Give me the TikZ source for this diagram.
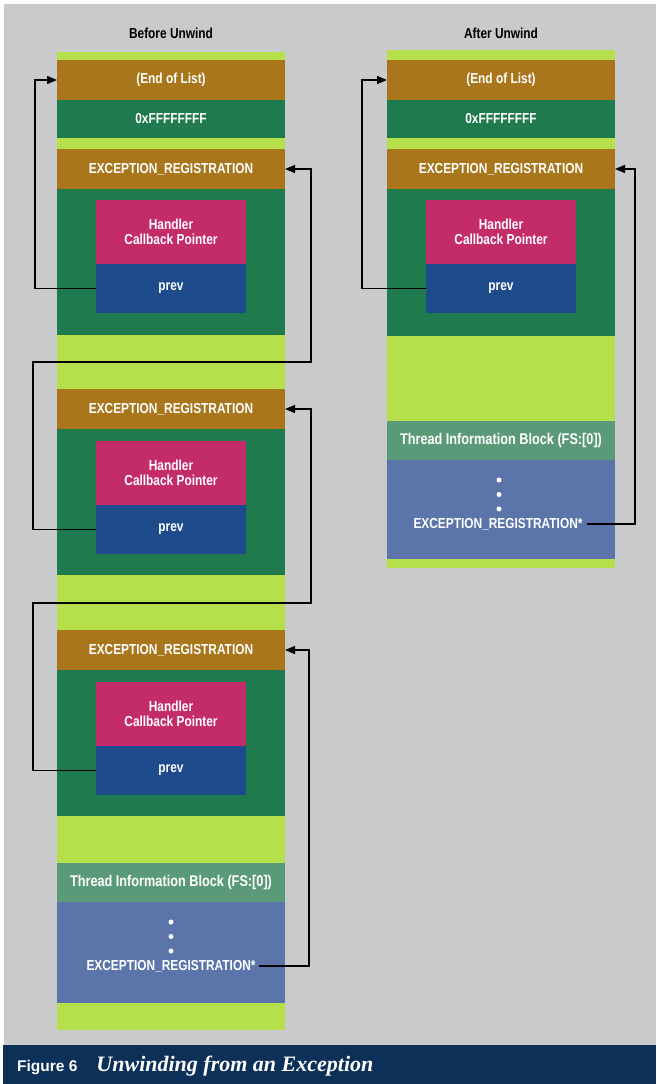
\documentclass[tikz,border=0pt]{standalone}
\usepackage{fontspec}
\setmainfont{Liberation Sans}[FakeStretch=0.82]
\newfontfamily\capsans{Liberation Sans}
\newfontfamily\capserif{Liberation Serif}
\usetikzlibrary{arrows.meta}
\definecolor{bggray}{HTML}{C8CACC}
\definecolor{lime}{HTML}{B6DF4C}
\definecolor{brownbar}{HTML}{A9761C}
\definecolor{dkgreen}{HTML}{1F7A4D}
\definecolor{pinkbox}{HTML}{C42B69}
\definecolor{bluebox}{HTML}{1D4B8C}
\definecolor{tibgreen}{HTML}{5B9A78}
\definecolor{stackblue}{HTML}{5B75AB}
\definecolor{navy}{HTML}{0D3059}
\tikzset{
  blk/.style={rectangle, inner sep=0pt, outer sep=0pt, text=white,
    font=\bfseries\fontsize{14.5}{15}\selectfont, align=center},
  title/.style={inner sep=0pt, font=\bfseries\fontsize{14.5}{15}\selectfont},
  link/.style={draw=black, line width=1.3pt, -{Triangle[length=10pt,width=8pt]}},
  dot/.style={circle, fill=white, draw=none, minimum size=5pt, inner sep=0pt}
}
\begin{document}
\begin{tikzpicture}[x=1pt,y=-1pt]
\useasboundingbox (0,0) rectangle (656,1084);
\fill[white] (0,0) rectangle (656,1084);
\fill[bggray] (4,4) rectangle (656,1045);
\fill[navy] (3,1045) rectangle (656,1084);
\node[anchor=west, text=white, inner sep=0pt] (cap) at (17,1066)
  {{\capsans\bfseries\fontsize{15.5}{16}\selectfont Figure 6}\hspace{19pt}{\capserif\bfseries\itshape\fontsize{22}{23}\selectfont Unwinding from an Exception}};

% ---------- Before Unwind ----------
\node[title] (tL) at (171,33) {Before Unwind};
\node[blk, fill=lime, minimum width=228pt, minimum height=978pt] (Lcol) at (171,541) {};
\node[blk, fill=brownbar, minimum width=228pt, minimum height=40pt] (Lend) at (171,80) {(End of List)};
\node[blk, fill=dkgreen, minimum width=228pt, minimum height=38pt] (Lff) at (171,119) {0xFFFFFFFF};
% block 1
\node[blk, fill=brownbar, minimum width=228pt, minimum height=40pt] (Lreg1) at (171,169) {EXCEPTION\_REGISTRATION};
\node[blk, fill=dkgreen, minimum width=228pt, minimum height=146pt] (Lbody1) at (171,262) {};
\node[blk, fill=pinkbox, minimum width=150pt, minimum height=64pt] (Lhcp1) at (171,232) {Handler\\Callback Pointer};
\node[blk, fill=bluebox, minimum width=150pt, minimum height=49pt] (Lprev1) at (171,288.5) {prev};
% block 2
\node[blk, fill=brownbar, minimum width=228pt, minimum height=40pt] (Lreg2) at (171,409) {EXCEPTION\_REGISTRATION};
\node[blk, fill=dkgreen, minimum width=228pt, minimum height=146pt] (Lbody2) at (171,502) {};
\node[blk, fill=pinkbox, minimum width=150pt, minimum height=64pt] (Lhcp2) at (171,473) {Handler\\Callback Pointer};
\node[blk, fill=bluebox, minimum width=150pt, minimum height=49pt] (Lprev2) at (171,529.5) {prev};
% block 3
\node[blk, fill=brownbar, minimum width=228pt, minimum height=40pt] (Lreg3) at (171,650) {EXCEPTION\_REGISTRATION};
\node[blk, fill=dkgreen, minimum width=228pt, minimum height=146pt] (Lbody3) at (171,743) {};
\node[blk, fill=pinkbox, minimum width=150pt, minimum height=64pt] (Lhcp3) at (171,714) {Handler\\Callback Pointer};
\node[blk, fill=bluebox, minimum width=150pt, minimum height=49pt] (Lprev3) at (171,770.5) {prev};
% TIB
\node[blk, fill=tibgreen, minimum width=228pt, minimum height=39pt] (Ltib) at (171,882.5) {\fontsize{15.5}{16}\selectfont Thread Information Block (FS:[0])};
\node[blk, fill=stackblue, minimum width=228pt, minimum height=101pt] (Lstack) at (171,952.5) {};
\node[dot] (Ld1) at (171,922) {};
\node[dot] (Ld2) at (171,936.5) {};
\node[dot] (Ld3) at (171,951) {};
\node[blk, inner sep=0pt] (Lers) at (171,966) {EXCEPTION\_REGISTRATION*};

% left arrows
\coordinate (a1a) at (35,288.5);
\coordinate (a1b) at (35,80);
\draw[link] (Lprev1.west) -- (a1a) -- (a1b) -- (Lend.west);
\coordinate (a2a) at (33,529.5);
\coordinate (a2b) at (33,362);
\coordinate (a2c) at (311,362);
\coordinate (a2d) at (311,169);
\draw[link] (Lprev2.west) -- (a2a) -- (a2b) -- (a2c) -- (a2d) -- (Lreg1.east);
\coordinate (a3a) at (33,770.5);
\coordinate (a3b) at (33,603);
\coordinate (a3c) at (311,603);
\coordinate (a3d) at (311,409);
\draw[link] (Lprev3.west) -- (a3a) -- (a3b) -- (a3c) -- (a3d) -- (Lreg2.east);
\coordinate (a4s) at ([xshift=4pt]Lers.east);
\coordinate (a4a) at (309,966);
\coordinate (a4b) at (309,650);
\draw[link] (a4s) -- (a4a) -- (a4b) -- (Lreg3.east);

% ---------- After Unwind ----------
\node[title] (tR) at (501,33) {After Unwind};
\node[blk, fill=lime, minimum width=228pt, minimum height=518pt] (Rcol) at (501,309) {};
\node[blk, fill=brownbar, minimum width=228pt, minimum height=40pt] (Rend) at (501,80) {(End of List)};
\node[blk, fill=dkgreen, minimum width=228pt, minimum height=38pt] (Rff) at (501,119) {0xFFFFFFFF};
\node[blk, fill=brownbar, minimum width=228pt, minimum height=40pt] (Rreg1) at (501,169) {EXCEPTION\_REGISTRATION};
\node[blk, fill=dkgreen, minimum width=228pt, minimum height=147pt] (Rbody1) at (501,262.5) {};
\node[blk, fill=pinkbox, minimum width=150pt, minimum height=64pt] (Rhcp1) at (501,232) {Handler\\Callback Pointer};
\node[blk, fill=bluebox, minimum width=150pt, minimum height=49pt] (Rprev1) at (501,288.5) {prev};
\node[blk, fill=tibgreen, minimum width=228pt, minimum height=39pt] (Rtib) at (501,440.5) {\fontsize{15.5}{16}\selectfont Thread Information Block (FS:[0])};
\node[blk, fill=stackblue, minimum width=228pt, minimum height=99pt] (Rstack) at (501,509.5) {};
\node[dot] (Rd1) at (499,480) {};
\node[dot] (Rd2) at (499,494.5) {};
\node[dot] (Rd3) at (499,509) {};
\node[blk, inner sep=0pt] (Rers) at (498,524) {EXCEPTION\_REGISTRATION*};

\coordinate (b1a) at (362,288.5);
\coordinate (b1b) at (362,80);
\draw[link] (Rprev1.west) -- (b1a) -- (b1b) -- (Rend.west);
\coordinate (b2s) at ([xshift=5pt]Rers.east);
\coordinate (b2a) at (635,524);
\coordinate (b2b) at (635,169);
\draw[link] (b2s) -- (b2a) -- (b2b) -- (Rreg1.east);
\end{tikzpicture}
\end{document}
